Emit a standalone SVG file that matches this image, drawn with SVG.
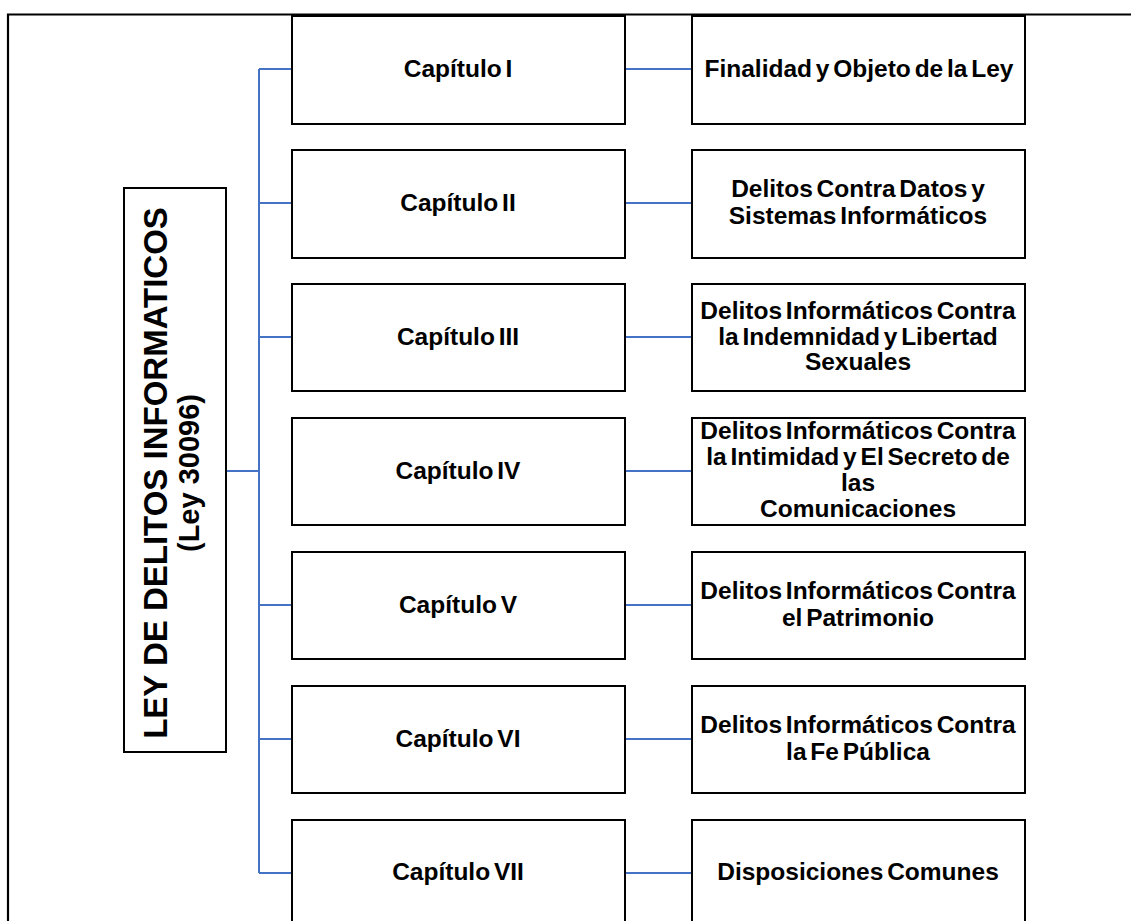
<svg xmlns="http://www.w3.org/2000/svg" width="1131" height="921" viewBox="0 0 1131 921">
<style>
.box{fill:#fff;stroke:#000;stroke-width:2}
.frame{fill:none;stroke:#000;stroke-width:2.2}
.conn{fill:none;stroke:#4472C4;stroke-width:2}
.t{font-family:"Liberation Sans",Arial,sans-serif;font-weight:bold;font-size:24.5px;fill:#000;text-anchor:middle;word-spacing:-3px}
.title{font-family:"Liberation Sans",Arial,sans-serif;font-weight:bold;font-size:33px;fill:#000;text-anchor:middle}
.sub{font-family:"Liberation Sans",Arial,sans-serif;font-weight:bold;font-size:29px;fill:#000;text-anchor:middle}
</style>
<rect width="1131" height="921" fill="#fff"/>
<path class="frame" d="M8,921 V14.5 H1131"/>
<g id="connectors">
<path class="conn" d="M226,471 H259 M259,69 V873 M259,69 H292 M259,203 H292 M259,337 H292 M259,605 H292 M259,739 H292 M259,873 H292"/>
<path class="conn" d="M625,69 H692 M625,203 H692 M625,337 H692 M625,471 H692 M625,605 H692 M625,739 H692 M625,873 H692"/>
</g>
<g id="ley">
<rect class="box" x="124" y="188" width="102" height="564"/>
<text class="title" transform="translate(167,473) rotate(-90)">LEY DE DELITOS INFORMATICOS</text>
<text class="sub" transform="translate(199,473) rotate(-90)">(Ley 30096)</text>
</g>
<g id="cap1"><rect class="box" x="292" y="16" width="333" height="108"/><text class="t" x="458" y="77">Capítulo I</text></g>
<g id="cap2"><rect class="box" x="292" y="150" width="333" height="108"/><text class="t" x="458" y="211">Capítulo II</text></g>
<g id="cap3"><rect class="box" x="292" y="284" width="333" height="107"/><text class="t" x="458" y="345">Capítulo III</text></g>
<g id="cap4"><rect class="box" x="292" y="418" width="333" height="107"/><text class="t" x="458" y="479">Capítulo IV</text></g>
<g id="cap5"><rect class="box" x="292" y="552" width="333" height="107"/><text class="t" x="458" y="613">Capítulo V</text></g>
<g id="cap6"><rect class="box" x="292" y="686" width="333" height="107"/><text class="t" x="458" y="747">Capítulo VI</text></g>
<g id="cap7"><rect class="box" x="292" y="820" width="333" height="120"/><text class="t" x="458" y="880">Capítulo VII</text></g>
<g id="r1"><rect class="box" x="692" y="16" width="333" height="108"/><text class="t" x="859" y="77">Finalidad y Objeto de la Ley</text></g>
<g id="r2"><rect class="box" x="692" y="150" width="333" height="108"/><text class="t" x="858" y="197">Delitos Contra Datos y</text><text class="t" x="858" y="224">Sistemas Informáticos</text></g>
<g id="r3"><rect class="box" x="692" y="284" width="333" height="107"/><text class="t" x="858" y="319">Delitos Informáticos Contra</text><text class="t" x="858" y="345">la Indemnidad y Libertad</text><text class="t" x="858" y="370">Sexuales</text></g>
<g id="r4"><rect class="box" x="692" y="418" width="333" height="107"/><text class="t" x="858" y="439">Delitos Informáticos Contra</text><text class="t" x="858" y="465">la Intimidad y El Secreto de</text><text class="t" x="858" y="491">las</text><text class="t" x="858" y="517">Comunicaciones</text></g>
<g id="r5"><rect class="box" x="692" y="552" width="333" height="107"/><text class="t" x="858" y="599">Delitos Informáticos Contra</text><text class="t" x="858" y="626">el Patrimonio</text></g>
<g id="r6"><rect class="box" x="692" y="686" width="333" height="107"/><text class="t" x="858" y="733">Delitos Informáticos Contra</text><text class="t" x="858" y="760">la Fe Pública</text></g>
<g id="r7"><rect class="box" x="692" y="820" width="333" height="120"/><text class="t" x="858" y="880">Disposiciones Comunes</text></g>
</svg>
